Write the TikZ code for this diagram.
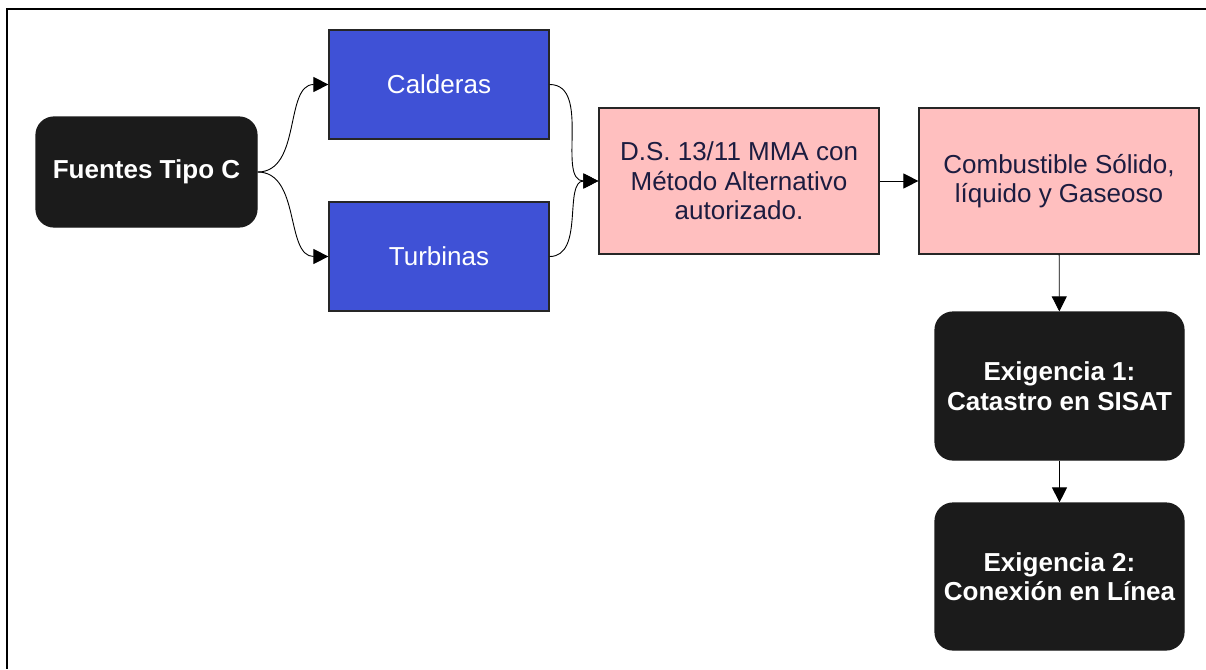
\documentclass[tikz,border=0pt]{standalone}
\usepackage{fontspec}
\setmainfont{Liberation Sans}
\usetikzlibrary{arrows.meta}
\definecolor{azul}{HTML}{3F51D6}
\definecolor{rosa}{HTML}{FFBFBF}
\definecolor{negro}{HTML}{1B1B1B}
\definecolor{tinta}{HTML}{1C1C40}

\begin{document}
\begin{tikzpicture}[>={Triangle[length=15pt,width=15pt]}, x=1pt, y=-1pt,
    caja/.style={draw=black!85, line width=1.2pt, inner sep=0pt, align=center,
        font=\fontsize{26}{29.5}\selectfont},
    azulbox/.style={caja, fill=azul, text=white, minimum width=220pt, minimum height=109pt},
    rosabox/.style={caja, fill=rosa, text=tinta, minimum width=280pt, minimum height=146pt},
    negrobox/.style={caja, draw=negro, fill=negro, text=white, rounded corners=18pt,
        font=\bfseries\fontsize{26}{29.5}\selectfont},
    flecha/.style={->, line width=0.9pt}]
    \useasboundingbox (0,0) rectangle (1206,669);
    \draw[line width=2pt] (1206,9)--(7,9)--(7,669);

    \node[negrobox, minimum width=221pt, minimum height=110pt] (fuentes) at (146.5,172) {Fuentes Tipo C};
    \node[azulbox] (calderas) at (439,84.5) {Calderas};
    \node[azulbox] (turbinas) at (439,256.5) {Turbinas};
    \node[rosabox] (ds) at (739,181) {D.S. 13/11 MMA con\\Método Alternativo\\autorizado.};
    \node[rosabox] (combustible) at (1059,181) {Combustible Sólido,\\líquido y Gaseoso};
    \node[negrobox, minimum width=249pt, minimum height=148pt] (exig1) at (1059.5,386) {Exigencia 1:\\Catastro en SISAT};
    \node[negrobox, minimum width=249pt, minimum height=147pt] (exig2) at (1059.5,576.5) {Exigencia 2:\\Conexión en Línea};

    \foreach \a/\b in {fuentes/calderas, fuentes/turbinas, calderas/ds, turbinas/ds}
        \draw[flecha] (\a.east) to[out=0,in=180] (\b.west);

    \draw[flecha] (ds) -- (combustible);
    \draw[flecha] (combustible) -- (exig1);
    \draw[flecha] (exig1) -- (exig2);
\end{tikzpicture}
\end{document}
